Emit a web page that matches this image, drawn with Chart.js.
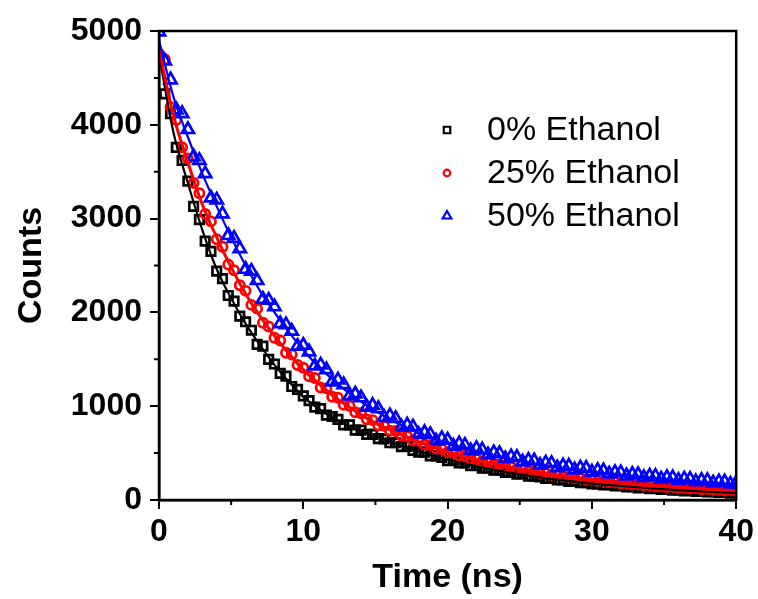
<!DOCTYPE html>
<html lang="en">
<head>
    <meta charset="UTF-8">
    <title>Fluorescence Decay</title>
    <script src="https://cdn.jsdelivr.net/npm/chart.js"></script>
    <style>
        html, body { margin: 0; padding: 0; background: #fff; }
        #wrap { width: 758px; height: 599px; }
    </style>
</head>
<body>
    <div id="wrap"><canvas id="decayChart" width="758" height="599"></canvas></div>

    <script>
        // measured points, every 0.4 ns
        const times = [0, 0.4, 0.8, 1.2, 1.6, 2, 2.4, 2.8, 3.2, 3.6,
            4, 4.4, 4.8, 5.2, 5.6, 6, 6.4, 6.8, 7.2, 7.6,
            8, 8.4, 8.8, 9.2, 9.6, 10, 10.4, 10.8, 11.2, 11.6,
            12, 12.4, 12.8, 13.2, 13.6, 14, 14.4, 14.8, 15.2, 15.6,
            16, 16.4, 16.8, 17.2, 17.6, 18, 18.4, 18.8, 19.2, 19.6,
            20, 20.4, 20.8, 21.2, 21.6, 22, 22.4, 22.8, 23.2, 23.6,
            24, 24.4, 24.8, 25.2, 25.6, 26, 26.4, 26.8, 27.2, 27.6,
            28, 28.4, 28.8, 29.2, 29.6, 30, 30.4, 30.8, 31.2, 31.6,
            32, 32.4, 32.8, 33.2, 33.6, 34, 34.4, 34.8, 35.2, 35.6,
            36, 36.4, 36.8, 37.2, 37.6, 38, 38.4, 38.8, 39.2, 39.6,
            40];

        const counts0 = [4690, 4330, 4120, 3760, 3620, 3400, 3130, 2990, 2760, 2650,
            2440, 2360, 2180, 2120, 1960, 1900, 1810, 1660, 1640, 1500,
            1450, 1350, 1320, 1210, 1180, 1110, 1060, 990, 975, 905,
            890, 860, 800, 800, 745, 745, 700, 700, 655, 650,
            610, 610, 570, 572, 530, 510, 510, 470, 470, 455,
            420, 425, 395, 395, 365, 368, 340, 342, 318, 318,
            295, 296, 275, 282, 255, 255, 245, 230, 232, 213,
            215, 198, 200, 185, 184, 172, 172, 160, 164, 150,
            152, 140, 142, 130, 133, 120, 124, 112, 115, 104,
            108, 98, 101, 92, 95, 86, 89, 80, 83, 74,
            78];

        const counts25 = [4760, 4700, 4190, 4050, 3760, 3640, 3380, 3270, 3050, 2970,
            2780, 2700, 2510, 2450, 2290, 2230, 2080, 2040, 1890, 1850,
            1730, 1700, 1570, 1550, 1440, 1410, 1320, 1300, 1200, 1190,
            1100, 1090, 1015, 1005, 935, 925, 860, 852, 795, 790,
            738, 735, 684, 680, 635, 630, 590, 585, 548, 544,
            508, 505, 474, 472, 440, 438, 410, 408, 381, 380,
            354, 354, 331, 330, 307, 305, 286, 286, 268, 268,
            250, 251, 235, 235, 219, 219, 204, 205, 190, 191,
            176, 178, 166, 168, 156, 158, 147, 150, 139, 142,
            131, 134, 123, 126, 115, 118, 108, 111, 102, 106,
            97];

        const counts50 = [4990, 4680, 4480, 4160, 4120, 3950, 3660, 3620, 3480, 3220,
            3200, 3050, 2820, 2790, 2680, 2460, 2440, 2340, 2140, 2130,
            2060, 1880, 1870, 1800, 1640, 1650, 1580, 1430, 1440, 1390,
            1260, 1280, 1230, 1110, 1130, 1090, 990, 1010, 975, 880,
            900, 870, 780, 800, 780, 700, 720, 700, 630, 655,
            640, 575, 600, 585, 525, 550, 535, 482, 505, 495,
            440, 462, 455, 405, 425, 418, 372, 395, 390, 345,
            365, 362, 322, 342, 338, 298, 316, 312, 278, 295,
            292, 258, 275, 272, 240, 256, 254, 225, 240, 238,
            210, 225, 222, 196, 210, 208, 182, 196, 194, 170,
            184];

        // fitted decay curves
        const fitTimes = [0, 1, 2, 3, 4, 5, 6, 7, 8, 9, 10, 11, 12, 13, 14, 15, 16, 17, 18, 19, 20,
            22, 24, 26, 28, 30, 32, 34, 36, 38, 40];
        const fit0 = [4750, 3920, 3380, 2880, 2460, 2150, 1880, 1650, 1440, 1260, 1100, 980, 880, 800, 730, 680, 620, 570, 520, 470, 430,
            360, 300, 250, 210, 175, 150, 125, 105, 90, 75];
        const fit25 = [4800, 4100, 3600, 3150, 2800, 2480, 2200, 1960, 1750, 1560, 1390, 1250, 1120, 1010, 910, 820, 750, 680, 620, 565, 515,
            430, 360, 300, 255, 215, 180, 155, 135, 115, 100];
        const fit50 = [4900, 4300, 3870, 3480, 3130, 2800, 2500, 2230, 2000, 1790, 1600, 1430, 1290, 1160, 1050, 950, 860, 780, 710, 650, 600,
            515, 445, 385, 340, 300, 265, 235, 210, 185, 165];

        const seriesNames = ['0% Ethanol', '25% Ethanol', '50% Ethanol'];
        const seriesColors = ['#000000', '#ff0000', '#0000ff'];
        const seriesShapes = ['rect', 'circle', 'triangle'];

        const xMinorTicks = [5, 15, 25, 35];
        const yMinorTicks = [500, 1500, 2500, 3500, 4500];

        function toPoints(xs, ys) {
            return xs.map((x, i) => ({ x: x, y: ys[i] }));
        }

        const fontFamily = '"Liberation Sans", Arial, sans-serif';

        // box frame, minor ticks and the legend
        const framePlugin = {
            id: 'framePlugin',
            afterDraw(chart) {
                const ctx = chart.ctx;
                const a = chart.chartArea;
                const xs = chart.scales.x;
                const ys = chart.scales.y;
                ctx.save();
                ctx.strokeStyle = '#000';
                ctx.lineWidth = 2.5;
                ctx.strokeRect(a.left, a.top, a.right - a.left, a.bottom - a.top);

                ctx.lineWidth = 2;
                ctx.beginPath();
                xMinorTicks.forEach(v => {
                    const p = xs.getPixelForValue(v);
                    ctx.moveTo(p, a.bottom);
                    ctx.lineTo(p, a.bottom + 5);
                });
                yMinorTicks.forEach(v => {
                    const p = ys.getPixelForValue(v);
                    ctx.moveTo(a.left, p);
                    ctx.lineTo(a.left - 5, p);
                });
                ctx.stroke();

                // legend
                const rows = [130, 173, 216];
                ctx.font = '34px ' + fontFamily;
                ctx.textBaseline = 'middle';
                seriesNames.forEach((name, i) => {
                    ctx.strokeStyle = seriesColors[i];
                    ctx.fillStyle = 'rgba(0,0,0,0)';
                    ctx.lineWidth = 2.2;
                    Chart.helpers.drawPoint(ctx, {
                        pointStyle: seriesShapes[i],
                        radius: seriesShapes[i] === 'circle' ? 3.3 : (seriesShapes[i] === 'rect' ? 4.6 : 5),
                        borderWidth: 2.2
                    }, 447, rows[i]);
                    ctx.fillStyle = '#000';
                    ctx.fillText(name, 487, rows[i] + 1);
                });
                ctx.restore();
            }
        };

        const markerSets = seriesNames.map((name, i) => ({
            label: name,
            data: toPoints(times, [counts0, counts25, counts50][i]),
            showLine: false,
            pointStyle: seriesShapes[i],
            pointRadius: seriesShapes[i] === 'rect' ? 6 : (seriesShapes[i] === 'circle' ? 4.6 : 7),
            pointBorderWidth: 2.7,
            pointBorderColor: seriesColors[i],
            pointBackgroundColor: 'rgba(0,0,0,0)',
            order: 10 - i
        }));

        const fitSets = [fit0, fit25, fit50].map((vals, i) => ({
            label: 'fit ' + seriesNames[i],
            data: toPoints(fitTimes, vals),
            showLine: true,
            pointRadius: 0,
            borderColor: seriesColors[i],
            borderWidth: i === 1 ? 3 : 2.2,
            cubicInterpolationMode: 'monotone',
            fill: false,
            order: 3 - i
        }));

        new Chart(document.getElementById('decayChart'), {
            type: 'scatter',
            data: { datasets: markerSets.concat(fitSets) },
            plugins: [framePlugin],
            options: {
                responsive: false,
                animation: false,
                events: [],
                layout: { padding: { top: 31, right: 20, left: 0, bottom: 0 } },
                plugins: {
                    legend: { display: false },
                    tooltip: { enabled: false }
                },
                scales: {
                    x: {
                        type: 'linear',
                        min: 0,
                        max: 40,
                        ticks: {
                            stepSize: 10,
                            color: '#000',
                            padding: 4,
                            callback: v => String(v),
                            font: { family: fontFamily, size: 32, weight: 'bold' }
                        },
                        grid: { drawOnChartArea: false, drawTicks: true, tickLength: 9, color: '#000', lineWidth: 2 },
                        border: { display: true, color: '#000', width: 2.5 },
                        title: {
                            display: true,
                            text: 'Time (ns)',
                            color: '#000',
                            padding: { top: 0, bottom: 1 },
                            font: { family: fontFamily, size: 34, weight: 'bold' }
                        },
                        afterFit(scale) { scale.height = 99; }
                    },
                    y: {
                        type: 'linear',
                        min: 0,
                        max: 5000,
                        ticks: {
                            stepSize: 1000,
                            color: '#000',
                            padding: 8,
                            callback: v => String(v),
                            font: { family: fontFamily, size: 32, weight: 'bold' }
                        },
                        grid: { drawOnChartArea: false, drawTicks: true, tickLength: 9, color: '#000', lineWidth: 2 },
                        border: { display: true, color: '#000', width: 2.5 },
                        title: {
                            display: true,
                            text: 'Counts',
                            color: '#000',
                            padding: { top: 11, bottom: 0 },
                            font: { family: fontFamily, size: 34, weight: 'bold' }
                        },
                        afterFit(scale) { scale.width = 159; }
                    }
                }
            }
        });
    </script>
</body>
</html>
